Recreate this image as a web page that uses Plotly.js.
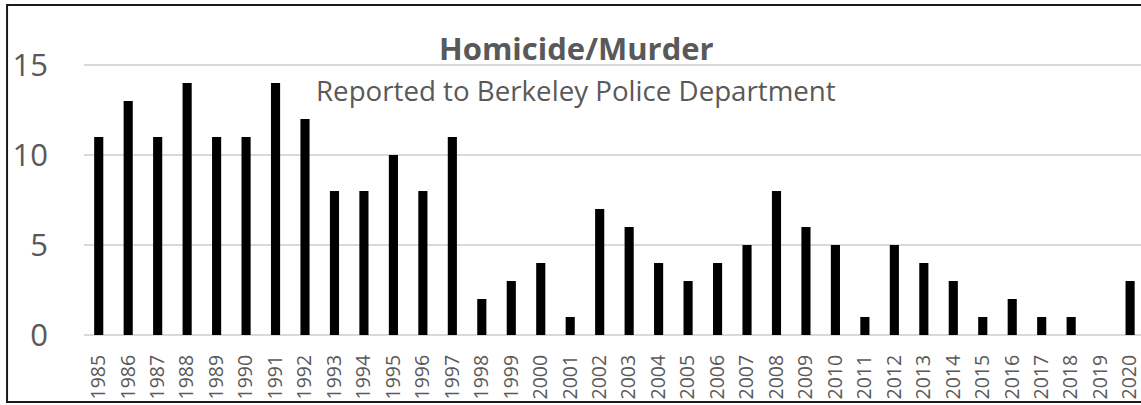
<!DOCTYPE html>
<html>
<head>
<meta charset="utf-8">
<script src="https://cdn.plot.ly/plotly-3.0.1.min.js"></script>
<style>
html,body{margin:0;padding:0;background:#fff;overflow:hidden;}
#chart{width:1141px;height:405px;}
</style>
</head>
<body>
<div id="chart"></div>
<script>
const years = ["1985","1986","1987","1988","1989","1990","1991","1992","1993","1994","1995","1996","1997","1998","1999","2000","2001","2002","2003","2004","2005","2006","2007","2008","2009","2010","2011","2012","2013","2014","2015","2016","2017","2018","2019","2020"];
const homicides = [11,13,11,14,11,11,14,12,8,8,10,8,11,2,3,4,1,7,6,4,3,4,5,8,6,5,1,5,4,3,1,2,1,1,0,3];
const yTicks = [0,5,10,15];
const titleText = "Homicide/Murder";
const subtitleText = "Reported to Berkeley Police Department";

const gray = "#595959";
const trace = {
  type: "bar",
  x: years,
  y: homicides,
  marker: {color: "#000000", line: {width: 0}},
  hoverinfo: "x+y"
};

const layout = {
  width: 1141,
  height: 405,
  margin: {l: 84, r: 0, t: 11, b: 70},
  paper_bgcolor: "#ffffff",
  plot_bgcolor: "#ffffff",
  bargap: 0.69,
  showlegend: false,
  font: {family: "Open Sans, sans-serif", color: gray},
  xaxis: {
    type: "category",
    range: [-0.5, 35.37],
    tickangle: -90,
    ticks: "",
    showgrid: false,
    showline: false,
    zeroline: false,
    ticklabelstandoff: 15,
    tickfont: {family: "Open Sans, sans-serif", size: 19.5, color: gray},
    fixedrange: true
  },
  yaxis: {
    range: [0, 18],
    tickvals: yTicks,
    ticktext: yTicks.map(String),
    showgrid: true,
    gridcolor: "#d9d9d9",
    gridwidth: 1.5,
    zeroline: true,
    zerolinecolor: "#d9d9d9",
    zerolinewidth: 1.5,
    showline: false,
    ticks: "",
    ticklabelstandoff: 35,
    tickfont: {family: "Open Sans, sans-serif", size: 31, color: gray},
    fixedrange: true
  },
  annotations: [
    {text: "<b>" + titleText + "</b>", xref: "paper", yref: "paper", x: 0.4655, y: 0.8858,
     xanchor: "center", yanchor: "middle", showarrow: false,
     font: {family: "Open Sans, sans-serif", size: 31, color: gray}},
    {text: subtitleText, xref: "paper", yref: "paper", x: 0.4655, y: 0.756,
     xanchor: "center", yanchor: "middle", showarrow: false,
     font: {family: "Open Sans, sans-serif", size: 27.7, color: gray}}
  ],
  shapes: [
    {type: "rect", xref: "paper", yref: "paper", x0: -0.0728, x1: 1.05, y0: -0.2068, y1: 1.0185,
     line: {color: "#1a1a1a", width: 2}, fillcolor: "rgba(0,0,0,0)", layer: "above"}
  ]
};

Plotly.newPlot("chart", [trace], layout, {displayModeBar: false, staticPlot: true});
</script>
</body>
</html>
